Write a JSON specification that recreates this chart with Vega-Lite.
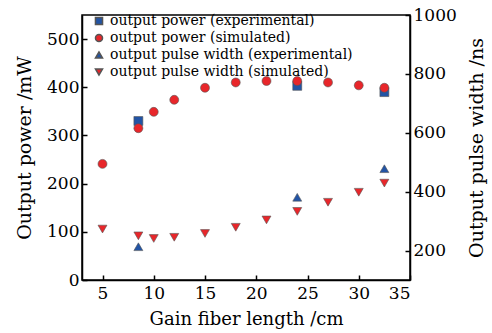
{
  "$schema": "https://vega.github.io/schema/vega-lite/v6.json",
  "width": 328,
  "height": 265,
  "autosize": {"type": "none"},
  "padding": {"left": 82, "top": 15, "right": 82, "bottom": 53},
  "background": "white",
  "config": {
    "view": {"stroke": "black", "strokeWidth": 1.5},
    "font": "DejaVu Serif",
    "axis": {
      "labelFont": "DejaVu Serif", "labelFontSize": 17, "labelColor": "black",
      "titleFont": "DejaVu Serif", "titleFontSize": 19, "titleFontWeight": "normal", "titleColor": "black",
      "domainColor": "black", "domainWidth": 1.5, "tickColor": "black", "tickWidth": 1.5, "tickSize": -5, "grid": false
    },
    "legend": {
      "orient": "none", "legendX": 10, "legendY": -1, "padding": 0,
      "labelFont": "DejaVu Serif", "labelFontSize": 14, "labelColor": "black", "labelLimit": 400,
      "symbolSize": 50, "rowPadding": 3, "labelOffset": 4, "titleFontSize": 0
    }
  },
  "data": {"values": [
    {"series": "output power (experimental)", "q": "power", "length": 8.5, "value": 330},
    {"series": "output power (experimental)", "q": "power", "length": 24, "value": 403},
    {"series": "output power (experimental)", "q": "power", "length": 32.5, "value": 390},
    {"series": "output power (simulated)", "q": "power", "length": 5, "value": 241},
    {"series": "output power (simulated)", "q": "power", "length": 8.5, "value": 315},
    {"series": "output power (simulated)", "q": "power", "length": 10, "value": 349},
    {"series": "output power (simulated)", "q": "power", "length": 12, "value": 374},
    {"series": "output power (simulated)", "q": "power", "length": 15, "value": 399},
    {"series": "output power (simulated)", "q": "power", "length": 18, "value": 410},
    {"series": "output power (simulated)", "q": "power", "length": 21, "value": 413},
    {"series": "output power (simulated)", "q": "power", "length": 24, "value": 413},
    {"series": "output power (simulated)", "q": "power", "length": 27, "value": 410},
    {"series": "output power (simulated)", "q": "power", "length": 30, "value": 404},
    {"series": "output power (simulated)", "q": "power", "length": 32.5, "value": 399},
    {"series": "output pulse width (experimental)", "q": "width", "length": 8.5, "value": 213},
    {"series": "output pulse width (experimental)", "q": "width", "length": 24, "value": 381},
    {"series": "output pulse width (experimental)", "q": "width", "length": 32.5, "value": 478},
    {"series": "output pulse width (simulated)", "q": "width", "length": 5, "value": 273},
    {"series": "output pulse width (simulated)", "q": "width", "length": 8.5, "value": 250},
    {"series": "output pulse width (simulated)", "q": "width", "length": 10, "value": 241},
    {"series": "output pulse width (simulated)", "q": "width", "length": 12, "value": 245},
    {"series": "output pulse width (simulated)", "q": "width", "length": 15, "value": 258},
    {"series": "output pulse width (simulated)", "q": "width", "length": 18, "value": 279},
    {"series": "output pulse width (simulated)", "q": "width", "length": 21, "value": 304},
    {"series": "output pulse width (simulated)", "q": "width", "length": 24, "value": 333},
    {"series": "output pulse width (simulated)", "q": "width", "length": 27, "value": 364},
    {"series": "output pulse width (simulated)", "q": "width", "length": 30, "value": 398},
    {"series": "output pulse width (simulated)", "q": "width", "length": 32.5, "value": 429}
  ]},
  "layer": [
    {
      "transform": [{"filter": "datum.q === 'power'"}],
      "mark": {"type": "point", "filled": true, "stroke": "#555555", "strokeWidth": 0.6, "opacity": 1, "size": 80},
      "encoding": {
        "x": {"field": "length", "type": "quantitative", "scale": {"domain": [3, 35], "nice": false},
              "axis": {"values": [5, 10, 15, 20, 25, 30, 35], "title": "Gain fiber length /cm", "titleFontSize": 18, "labelPadding": 10, "titlePadding": 9}},
        "y": {"field": "value", "type": "quantitative", "scale": {"domain": [0, 550], "nice": false},
              "axis": {"orient": "left", "values": [0, 100, 200, 300, 400, 500], "title": "Output power /mW", "labelPadding": 8, "titlePadding": 12}},
        "shape": {"field": "series", "type": "nominal", "title": null,
                  "scale": {"domain": ["output power (experimental)", "output power (simulated)", "output pulse width (experimental)", "output pulse width (simulated)"],
                            "range": ["square", "circle", "triangle-up", "triangle-down"]}},
        "color": {"field": "series", "type": "nominal", "title": null,
                  "scale": {"domain": ["output power (experimental)", "output power (simulated)", "output pulse width (experimental)", "output pulse width (simulated)"],
                            "range": ["#2254a5", "#e8262a", "#2254a5", "#e8262a"]}}
      }
    },
    {
      "transform": [{"filter": "datum.q === 'width'"}],
      "mark": {"type": "point", "filled": true, "stroke": "#555555", "strokeWidth": 0.6, "opacity": 1, "size": 80},
      "encoding": {
        "x": {"field": "length", "type": "quantitative"},
        "y": {"field": "value", "type": "quantitative", "scale": {"domain": [100, 1000], "nice": false},
              "axis": {"orient": "right", "values": [200, 400, 600, 800, 1000], "format": "d", "title": "Output pulse width /ns", "titleAngle": 270, "labelPadding": 8, "titlePadding": 30}},
        "shape": {"field": "series", "type": "nominal", "title": null},
        "color": {"field": "series", "type": "nominal", "title": null}
      }
    }
  ],
  "resolve": {"scale": {"y": "independent"}}
}
